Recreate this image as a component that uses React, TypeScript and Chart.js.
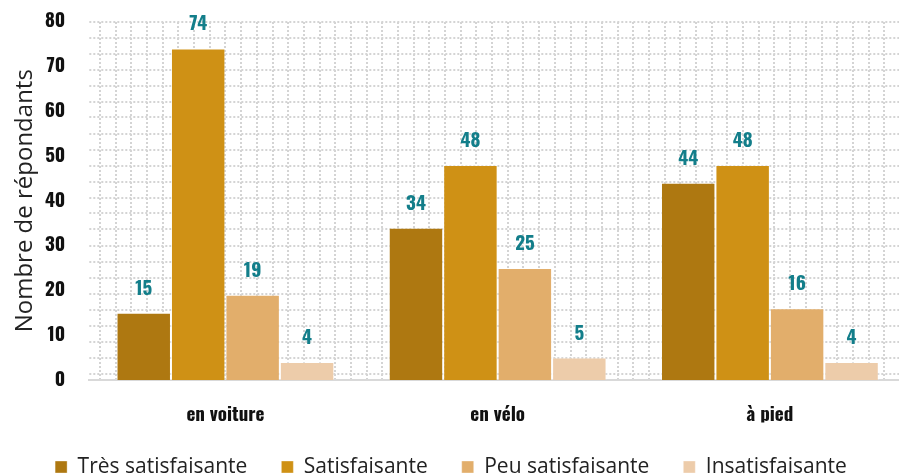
import React, { useEffect, useRef } from "react";
import { Chart, registerables } from "chart.js";

Chart.register(...registerables);

// ---- Data ----
const categories = ["en voiture", "en vélo", "à pied"];
const seriesNames = ["Très satisfaisante", "Satisfaisante", "Peu satisfaisante", "Insatisfaisante"];
const tresSatisfaisante = [15, 34, 44];
const satisfaisante = [74, 48, 48];
const peuSatisfaisante = [19, 25, 16];
const insatisfaisante = [4, 5, 4];
const yMin = 0;
const yMax = 80;
const yStep = 10;
const yTitle = "Nombre de répondants";

// ---- Styles ----
const seriesColors = ["#AE7811", "#CF9115", "#E2AE6B", "#EDCCAA"];
const labelColor = "#137E8A";
const condensed = "Oswald, 'DejaVu Sans Condensed', sans-serif";
const sans = "'Open Sans', 'Noto Sans', sans-serif";

const SHIFT = 13; // canvas drawn 13px to the left of the viewport
const CANVAS_W = 919;
const CANVAS_H = 488;
const PAD_LEFT = 9;
const AREA_LEFT = 102.3; // chart area left in canvas px
const AREA_TOP = 21.5;
const AREA_BOTTOM = 380;
const GRID_PX = 16;

export default function App() {
  const canvasRef = useRef<HTMLCanvasElement | null>(null);

  useEffect(() => {
    const canvas = canvasRef.current;
    if (!canvas) return;

    const valueLabels = {
      id: "valueLabels",
      afterDatasetsDraw(chart: any) {
        const ctx = chart.ctx;
        ctx.save();
        ctx.font = `bold 19px ${condensed}`;
        ctx.fillStyle = labelColor;
        ctx.textAlign = "center";
        ctx.textBaseline = "alphabetic";
        chart.data.datasets.forEach((ds: any, i: number) => {
          const meta = chart.getDatasetMeta(i);
          meta.data.forEach((el: any, j: number) => {
            ctx.fillText(String(ds.data[j]), el.x, el.y - 18);
          });
        });
        ctx.restore();
      },
    };

    const seriesData = [tresSatisfaisante, satisfaisante, peuSatisfaisante, insatisfaisante];

    const chart = new Chart(canvas, {
      type: "bar",
      data: {
        labels: categories,
        datasets: seriesNames.map((name, i) => ({
          label: name,
          data: seriesData[i],
          backgroundColor: seriesColors[i],
          borderColor: "rgba(255,255,255,0.35)",
          borderWidth: 1,
          categoryPercentage: 0.8,
          barPercentage: 1.0,
          xAxisID: "x",
          yAxisID: "y",
        })),
      },
      options: {
        responsive: false,
        animation: false,
        devicePixelRatio: 1,
        layout: { padding: { left: PAD_LEFT, right: 0, top: AREA_TOP, bottom: 0.5 } },
        plugins: {
          legend: {
            position: "bottom",
            labels: {
              boxWidth: 12,
              boxHeight: 12,
              padding: 34,
              color: "#222",
              font: { family: sans, size: 21 },
            },
          },
          tooltip: { enabled: false },
        },
        scales: {
          x: {
            type: "category",
            position: "bottom",
            grid: { display: false, drawTicks: false },
            border: { display: true, color: "#D9D9D9", width: 2 },
            ticks: {
              color: "#111",
              padding: 24,
              font: { family: condensed, size: 19, weight: "bold" },
            },
            afterFit: (s: any) => {
              s.height = CANVAS_H - 0.5 - 65 - AREA_BOTTOM;
            },
          },
          y: {
            type: "linear",
            position: "left",
            min: yMin,
            max: yMax,
            grid: { display: false, drawTicks: true, tickLength: 24 },
            border: { display: false },
            ticks: {
              stepSize: yStep,
              color: "#111",
              padding: 0,
              font: { family: condensed, size: 19, weight: "bold" },
            },
            title: {
              display: true,
              text: yTitle,
              color: "#222",
              font: { family: sans, size: 24 },
              padding: { top: 23.6 - PAD_LEFT, bottom: 0 },
            },
            afterFit: (s: any) => {
              s.width = AREA_LEFT - PAD_LEFT;
            },
          },
          gridX: {
            type: "linear",
            position: "top",
            min: 0,
            max: (CANVAS_W - AREA_LEFT) / GRID_PX,
            ticks: { display: false },
            grid: { color: "#D4D4D4", lineWidth: 2, drawTicks: false },
            border: { display: false, dash: [2, 2] },
            afterBuildTicks: (s: any) => {
              const first = (SHIFT + 100 - AREA_LEFT) / GRID_PX;
              const t: any[] = [];
              for (let v = first; v < s.max; v += 1) t.push({ value: v });
              s.ticks = t;
            },
            afterFit: (s: any) => {
              s.height = 0;
            },
          },
          gridY: {
            type: "linear",
            position: "right",
            reverse: true,
            min: 0,
            max: (AREA_BOTTOM - AREA_TOP) / GRID_PX,
            ticks: { display: false },
            grid: { color: "#D4D4D4", lineWidth: 2, drawTicks: false },
            border: { display: false, dash: [2, 2] },
            afterBuildTicks: (s: any) => {
              const t: any[] = [];
              for (let v = 0; v < s.max; v += 1) t.push({ value: v });
              s.ticks = t;
            },
            afterFit: (s: any) => {
              s.width = 0;
            },
          },
        },
      } as any,
      plugins: [valueLabels],
    });

    return () => chart.destroy();
  }, []);

  return (
    <div
      style={{
        position: "fixed",
        left: 0,
        top: 0,
        width: 899,
        height: 475,
        overflow: "hidden",
        background: "#fff",
      }}
    >
      <canvas
        ref={canvasRef}
        width={CANVAS_W}
        height={CANVAS_H}
        style={{ position: "absolute", left: -SHIFT, top: 0, width: CANVAS_W, height: CANVAS_H }}
      />
    </div>
  );
}
